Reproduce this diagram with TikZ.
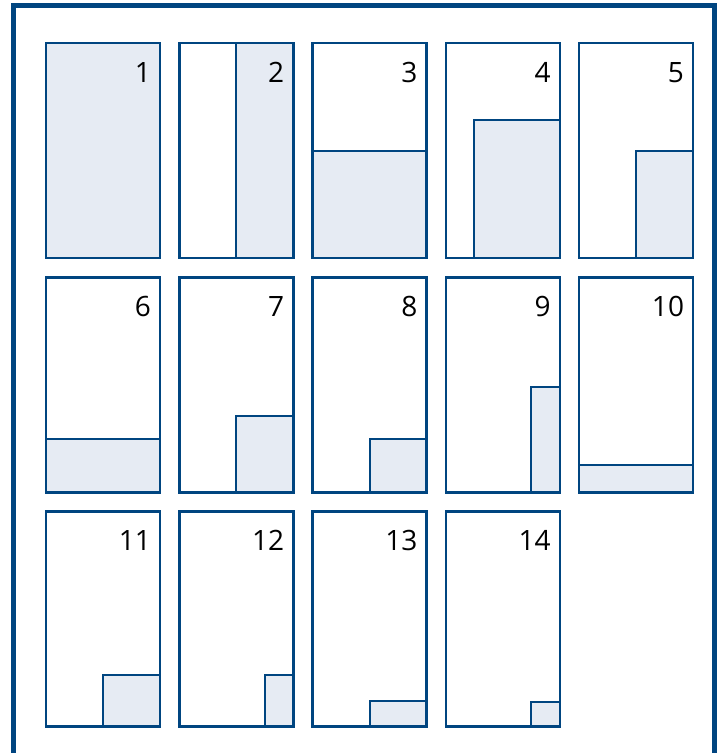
\documentclass[tikz,border=0pt]{standalone}
\usepackage{fontspec}
\setsansfont{Open Sans}
\usetikzlibrary{calc}
\definecolor{frameblue}{RGB}{0,69,128}
\definecolor{partfill}{RGB}{230,235,243}

\begin{document}
\begin{tikzpicture}[x=1pt,y=-1pt,
  sheet/.style={minimum width=114pt,minimum height=215pt,inner sep=0pt,outer sep=0pt},
  edge/.style={draw=frameblue,line width=2.5pt},
  part/.style={draw=frameblue,line width=2pt,fill=partfill},
  num/.style={font=\sffamily\fontsize{28}{32}\selectfont,anchor=base east,inner sep=0pt}]
  \useasboundingbox (0,0) rectangle (718,753);
  \clip (0,0) rectangle (718,753);
  % ---- outer frame ----
  \draw[frameblue,line width=5pt] (13.5,5.5) rectangle (714.5,755);
  % ---- sheets: number/column/row/width share/height share ----
  \foreach \n/\c/\r/\w/\h in {1/0/0/1/1, 2/1/0/.5/1, 3/2/0/1/.5, 4/3/0/.75/.642, 5/4/0/.5/.5,
      6/0/1/1/.25, 7/1/1/.5/.355, 8/2/1/.5/.25, 9/3/1/.25/.49, 10/4/1/1/.125,
      11/0/2/.5/.24, 12/1/2/.25/.24, 13/2/2/.5/.12, 14/3/2/.25/.115}{
    \node[sheet] (s\n) at (103+133.3*\c,150.5+234.3*\r) {};
    \draw[part] (s\n.south east) rectangle ++(-114*\w,-215*\h);
    \draw[edge] (s\n.north west) rectangle (s\n.south east);
    \node[num] (n\n) at ($(s\n.north east)+(-9,39)$) {\n};
  }
\end{tikzpicture}
\end{document}
